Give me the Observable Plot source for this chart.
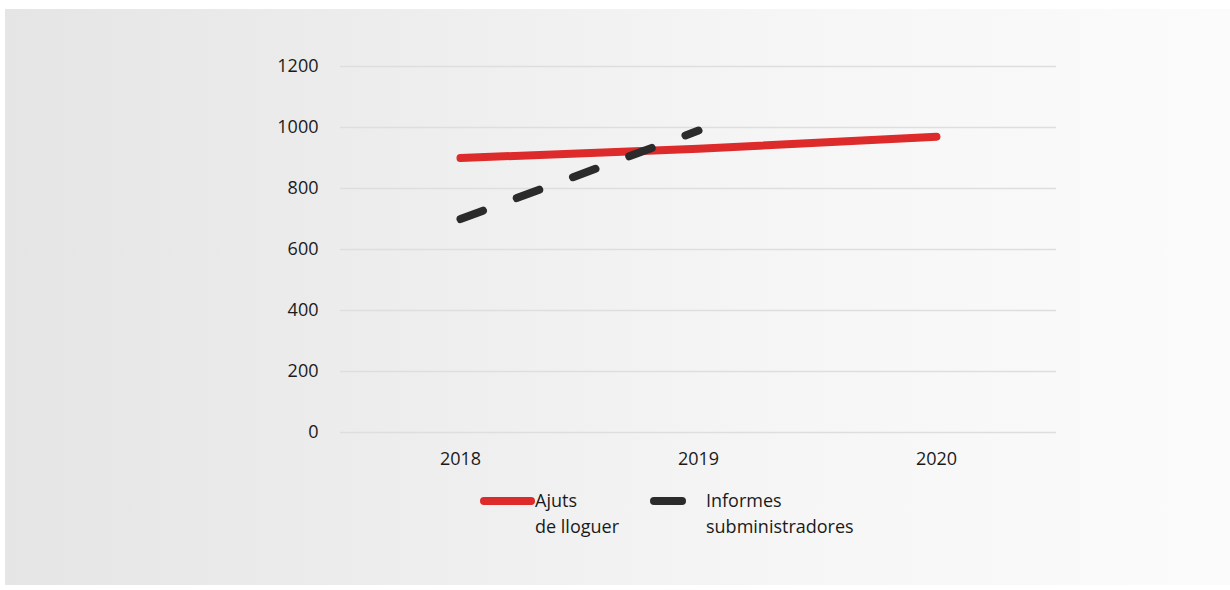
<!DOCTYPE html>
<html>
<head>
<meta charset="utf-8">
<script src="https://cdn.jsdelivr.net/npm/d3@7"></script>
<script src="https://cdn.jsdelivr.net/npm/@observablehq/plot@0.6"></script>
<style>
  html, body { margin: 0; padding: 0; background: #ffffff; }
  body { width: 1230px; height: 590px; position: relative; overflow: hidden; font-family: "Open Sans", sans-serif; }
  #bg { position: absolute; left: 5px; top: 9px; width: 1225px; height: 576px;
        background: linear-gradient(to right, #e5e5e5 0%, #eeeeee 35%, #f6f6f6 65%, #fbfbfb 100%); }
  #chart { position: absolute; left: 0; top: 0; }
  #chart svg text { font-weight: 500; }
  .sw { position: absolute; height: 8px; border-radius: 4px; }
  .lt { position: absolute; font-size: 18px; line-height: 26px; color: #1a1a1a; font-weight: 500; }
</style>
</head>
<body>
<div id="bg"></div>
<div id="chart"></div>
<div class="sw" style="left:480px; top:497px; width:55px; background:#dd2a2a;"></div>
<div class="lt" style="left:535px; top:487px;">Ajuts<br>de lloguer</div>
<div class="sw" style="left:650px; top:497px; width:36px; background:#2b2b2b;"></div>
<div class="lt" style="left:706px; top:487px;">Informes<br>subministradores</div>
<script>
const years = ["2018", "2019", "2020"];
const ajuts = [900, 930, 970];
const informesYears = ["2018", "2019"];
const informes = [700, 990];
const yTicks = [0, 200, 400, 600, 800, 1000, 1200];

const ajutsData = years.map((y, i) => ({year: y, value: ajuts[i]}));
const informesData = informesYears.map((y, i) => ({year: y, value: informes[i]}));

const chart = Plot.plot({
  width: 1230,
  height: 480,
  marginTop: 66,
  marginBottom: 48,
  marginLeft: 340,
  marginRight: 174,
  style: {background: "transparent", fontFamily: "'Open Sans', sans-serif", fontSize: "18px", color: "#1a1a1a"},
  x: {type: "point", domain: years, padding: 0.5, label: null},
  y: {domain: [0, 1200], label: null},
  marks: [
    Plot.ruleY(yTicks, {stroke: "#dedede", strokeWidth: 1.5}),
    Plot.axisY({ticks: yTicks, tickFormat: d => String(d), tickSize: 0, tickPadding: 22, label: null, fontSize: 18}),
    Plot.axisX({tickSize: 0, tickPadding: 20, label: null, fontSize: 18}),
    Plot.line(ajutsData, {x: "year", y: "value", stroke: "#dd2a2a", strokeWidth: 8, strokeLinecap: "round", strokeLinejoin: "round"}),
    Plot.line(informesData, {x: "year", y: "value", stroke: "#2b2b2b", strokeWidth: 8, strokeLinecap: "round", strokeDasharray: "24,36"})
  ]
});
document.getElementById("chart").appendChild(chart);
</script>
</body>
</html>
